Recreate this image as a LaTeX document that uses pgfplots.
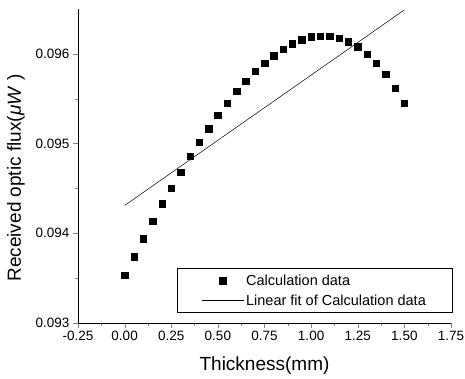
\documentclass[border=0pt]{standalone}
\usepackage{pgfplots}
\pgfplotsset{compat=1.18}
\usepackage{fontspec}
\setmainfont{Liberation Sans}
\pgfplotsset{
  marklegend/.style={legend image code/.code={\draw[##1] plot coordinates {(21pt,0pt)};\path (0pt,0pt) (42pt,0pt);}},
  linelegend/.style={legend image code/.code={\draw[##1] (0pt,0pt) -- (42pt,0pt);}},
}
\begin{document}
\begin{tikzpicture}
\useasboundingbox (0,0) rectangle (465pt,379pt);
\begin{axis}[
  at={(78pt,56pt)}, anchor=south west,
  scale only axis, width=373pt, height=314pt,
  xmin=-0.25, xmax=1.75, ymin=0.093, ymax=0.0965,
  axis x line*=bottom, axis y line*=left,
  xtick={-0.25,0,0.25,0.5,0.75,1,1.25,1.5,1.75},
  ytick={0.093,0.094,0.095,0.096},
  minor x tick num=1, minor y tick num=1,
  tick align=outside,
  major tick length=5pt, minor tick length=3pt,
  x tick label style={/pgf/number format/.cd, fixed, fixed zerofill, precision=2, assume math mode=true},
  y tick label style={/pgf/number format/.cd, fixed, fixed zerofill, precision=3, assume math mode=true},
  scaled y ticks=false,
  ticklabel style={font=\fontsize{13.5}{15}\selectfont},
  xlabel={Thickness(mm)},
  ylabel={Received optic flux(\textit{μW} )},
  label style={font=\fontsize{19}{21}\selectfont},
  xlabel style={yshift=-9pt},
  ylabel style={yshift=4pt, xshift=-12pt},
  axis line style={line width=0.8pt},
  legend style={at={(1.003,0.032)}, anchor=south east, draw=black, line width=0.5pt,
    font=\fontsize{14.5}{17}\selectfont, inner xsep=24pt, inner ysep=4pt,
    cells={anchor=west}, row sep=4pt},
]
\addplot[only marks, mark=square*, mark size=3.2pt, black, marklegend]
coordinates {
(0.00,0.093533) (0.05,0.093737) (0.10,0.093941) (0.15,0.094133)
(0.20,0.094330) (0.25,0.094503) (0.30,0.094681) (0.35,0.094856)
(0.40,0.095015) (0.45,0.095167) (0.50,0.095315) (0.55,0.095448)
(0.60,0.095581) (0.65,0.095697) (0.70,0.095804) (0.75,0.095896)
(0.80,0.095978) (0.85,0.096052) (0.90,0.096115) (0.95,0.096156)
(1.00,0.096189) (1.05,0.096200) (1.10,0.096200) (1.15,0.096174)
(1.20,0.096137) (1.25,0.096078) (1.30,0.095996) (1.35,0.095896)
(1.40,0.095774) (1.45,0.095619) (1.50,0.095448)
};
\addlegendentry{Calculation data}
\addplot[black, line width=0.5pt, no marks, linelegend]
coordinates {(0,0.09431) (1.5,0.09649)};
\addlegendentry{Linear fit of Calculation data}
\end{axis}
\end{tikzpicture}
\end{document}
